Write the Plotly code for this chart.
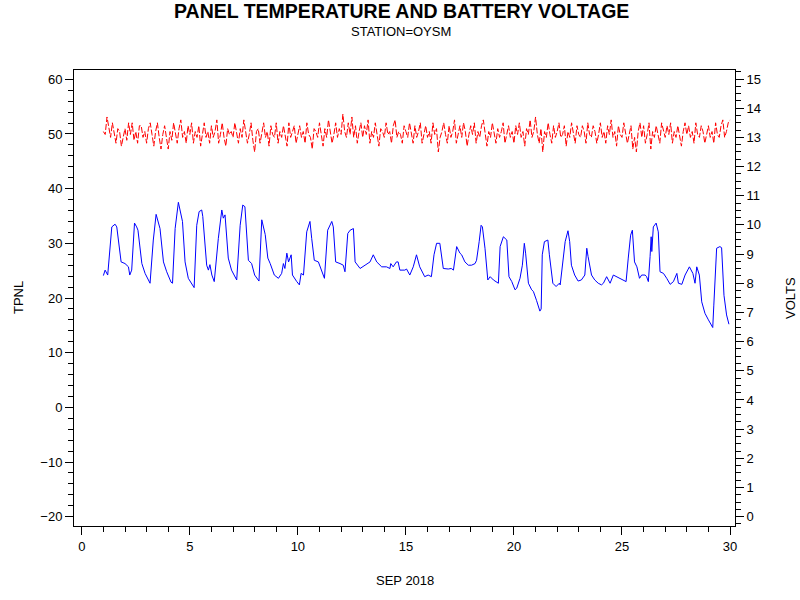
import numpy as np
import plotly.graph_objects as go

# panel temperature (day of month, value)
tpnl_day = [1.0, 1.08, 1.2, 1.39, 1.54, 1.62, 1.82, 2.0, 2.16, 2.22, 2.31, 2.44, 2.54, 2.6, 2.78, 2.93,
            3.16, 3.31, 3.44, 3.52, 3.62, 3.78, 3.93, 4.13, 4.2, 4.32, 4.47, 4.66, 4.78, 4.93, 5.12, 5.2,
            5.32, 5.43, 5.55, 5.6, 5.78, 5.86, 5.93, 6.02, 6.13, 6.32, 6.48, 6.55, 6.63, 6.78, 6.93, 7.09,
            7.17, 7.33, 7.45, 7.55, 7.71, 7.86, 8.0, 8.2, 8.33, 8.49, 8.61, 8.72, 8.78, 8.91, 9.1, 9.25,
            9.33, 9.4, 9.49, 9.57, 9.69, 9.75, 9.95, 10.07, 10.15, 10.26, 10.41, 10.56, 10.64, 10.76, 10.95, 11.1,
            11.23, 11.38, 11.57, 11.64, 11.75, 11.95, 12.1, 12.18, 12.31, 12.42, 12.57, 12.65, 12.88, 13.11, 13.34, 13.49,
            13.65, 13.88, 14.1, 14.26, 14.3, 14.41, 14.56, 14.64, 14.72, 14.95, 15.03, 15.18, 15.34, 15.49, 15.64, 15.87,
            16.03, 16.18, 16.3, 16.42, 16.57, 16.73, 16.96, 17.1, 17.2, 17.35, 17.5, 17.58, 17.73, 17.89, 18.04, 18.2,
            18.27, 18.39, 18.48, 18.54, 18.66, 18.79, 18.9, 19.05, 19.2, 19.28, 19.36, 19.51, 19.67, 19.77, 19.9, 20.05,
            20.13, 20.28, 20.39, 20.48, 20.54, 20.67, 20.82, 20.9, 21.05, 21.2, 21.26, 21.31, 21.41, 21.57, 21.64, 21.8,
            21.95, 22.1, 22.14, 22.25, 22.37, 22.5, 22.58, 22.66, 22.81, 22.97, 23.12, 23.28, 23.37, 23.43, 23.59, 23.74,
            23.9, 24.05, 24.14, 24.29, 24.45, 24.6, 24.76, 24.91, 25.07, 25.19, 25.29, 25.4, 25.48, 25.58, 25.69, 25.81,
            25.91, 26.07, 26.14, 26.22, 26.3, 26.35, 26.38, 26.45, 26.58, 26.68, 26.76, 26.92, 27.07, 27.23, 27.38, 27.54,
            27.61, 27.77, 27.92, 28.12, 28.28, 28.38, 28.46, 28.58, 28.69, 28.84, 29.0, 29.07, 29.2, 29.25, 29.38, 29.53,
            29.61, 29.72, 29.84, 29.95]
tpnl = [24.1, 25.1, 24.2, 33.0, 33.5, 33.0, 26.6, 26.3, 25.7, 24.2, 25.1, 33.7, 33.0, 32.4, 26.3, 24.5,
        22.7, 30.6, 35.3, 34.3, 32.7, 26.6, 24.8, 22.9, 22.7, 32.7, 37.5, 34.0, 26.6, 23.6, 22.4, 21.9,
        33.3, 35.8, 36.1, 34.9, 26.0, 25.1, 26.1, 24.2, 23.0, 30.9, 36.1, 34.6, 35.2, 27.3, 25.1, 23.9,
        23.3, 33.3, 37.0, 36.7, 26.9, 26.3, 24.2, 23.1, 34.3, 31.6, 27.3, 26.3, 25.7, 24.2, 23.6, 24.5,
        26.3, 25.4, 28.2, 26.6, 27.9, 24.2, 23.0, 22.4, 24.5, 24.2, 32.1, 34.0, 30.9, 26.9, 26.6, 24.8,
        23.6, 32.4, 34.0, 33.0, 26.6, 26.3, 26.0, 24.8, 31.8, 32.4, 32.7, 26.6, 25.4, 26.0, 26.6, 27.9,
        26.6, 25.7, 25.7, 25.4, 26.3, 25.7, 26.6, 26.6, 25.1, 25.1, 25.3, 24.2, 25.7, 27.9, 25.7, 23.9,
        24.2, 23.9, 27.9, 30.0, 30.0, 25.4, 25.3, 25.4, 25.1, 29.4, 28.2, 27.9, 26.6, 26.0, 26.0, 26.3,
        26.9, 30.3, 33.3, 33.0, 29.1, 23.3, 23.9, 23.3, 23.0, 22.7, 29.4, 31.2, 30.6, 23.9, 23.0, 21.5,
        21.8, 23.6, 26.0, 30.0, 28.2, 22.7, 21.5, 21.2, 19.5, 17.6, 18.0, 27.9, 30.3, 30.6, 27.9, 22.7,
        22.1, 22.7, 22.4, 26.6, 30.3, 32.3, 30.3, 26.0, 24.2, 23.1, 23.3, 24.2, 29.1, 27.6, 24.2, 23.3,
        22.7, 22.4, 22.7, 23.9, 22.7, 24.2, 23.9, 23.6, 23.3, 23.0, 27.3, 31.5, 32.4, 26.6, 25.7, 23.6,
        24.2, 24.2, 23.9, 23.0, 27.6, 31.2, 28.5, 33.0, 33.7, 32.1, 24.8, 24.5, 23.6, 22.5, 23.0, 24.5,
        22.7, 22.5, 24.2, 25.7, 24.5, 22.7, 25.7, 24.2, 19.3, 17.2, 16.0, 15.4, 14.6, 18.7, 29.1, 29.4,
        29.2, 20.5, 16.9, 15.2]

# battery voltage, every two hours from day 1.0
volt_start = 1.0
volts = [
    13.2, 13.1, 13.7, 13.3, 13.0, 13.5, 13.1, 12.8, 13.3, 13.2, 12.7, 13.0,
    13.3, 12.9, 13.5, 13.1, 13.5, 12.9, 13.2, 12.8, 13.4, 13.4, 13.0, 13.2,
    12.8, 13.3, 13.5, 13.1, 12.7, 13.2, 13.5, 13.0, 12.6, 13.1, 13.4, 13.0,
    12.6, 13.2, 12.9, 13.5, 13.1, 12.8, 13.3, 13.6, 13.0, 13.2, 12.8, 13.4,
    13.1, 13.5, 12.8, 13.2, 13.0, 13.4, 12.7, 13.1, 13.5, 13.0, 13.2, 12.8,
    13.4, 13.0, 13.2, 13.6, 12.8, 13.1, 13.5, 13.0, 12.7, 13.3, 13.1, 13.2,
    13.0, 13.5, 13.1, 12.8, 13.3, 13.0, 13.6, 13.2, 12.8, 13.1, 13.5, 12.9,
    12.5, 13.2, 13.3, 12.8, 13.1, 13.5, 13.0, 13.2, 12.7, 13.4, 13.1, 13.0,
    13.5, 12.8, 13.2, 13.0, 13.4, 13.1, 12.7, 13.5, 13.0, 13.2, 13.4, 12.8,
    13.1, 13.4, 13.0, 13.2, 12.8, 13.5, 13.1, 13.0, 12.6, 13.3, 13.2, 13.0,
    13.5, 13.1, 12.7, 13.3, 13.0, 13.6, 13.2, 12.8, 13.1, 13.5, 13.0, 13.3,
    13.1, 13.8, 13.2, 13.0, 13.5, 13.1, 13.7, 13.0, 13.4, 12.8, 13.2, 13.5,
    13.0, 13.4, 13.1, 13.6, 12.8, 13.2, 13.0, 13.5, 13.1, 12.7, 13.3, 13.2,
    13.0, 13.5, 13.1, 13.2, 12.8, 13.4, 13.6, 13.0, 13.2, 13.1, 12.8, 13.4,
    13.2, 13.0, 13.5, 13.1, 12.8, 13.4, 13.0, 13.2, 13.5, 12.8, 13.1, 13.4,
    13.0, 13.2, 12.8, 13.5, 13.1, 13.3, 12.5, 13.0, 13.2, 13.5, 13.1, 12.8,
    13.4, 13.0, 13.2, 13.6, 12.8, 13.1, 13.4, 13.0, 13.5, 13.2, 12.7, 13.1,
    13.4, 13.1, 13.5, 12.8, 13.2, 13.0, 13.4, 13.6, 13.1, 12.7, 13.2, 13.0,
    13.5, 13.1, 12.8, 13.3, 13.0, 13.2, 13.5, 12.8, 13.1, 13.4, 13.0, 13.2,
    12.8, 13.4, 13.1, 13.5, 13.0, 13.2, 12.7, 13.3, 13.1, 13.6, 13.0, 13.2,
    13.7, 13.1, 12.8, 13.3, 12.5, 13.2, 13.0, 13.5, 13.1, 12.8, 13.4, 13.0,
    13.2, 13.5, 13.0, 13.1, 13.4, 12.7, 13.2, 13.0, 13.5, 13.1, 12.8, 13.4,
    13.1, 13.0, 13.4, 13.2, 12.8, 13.5, 13.1, 13.0, 13.4, 13.2, 12.8, 13.1,
    13.5, 13.0, 13.2, 12.8, 13.4, 13.1, 13.6, 13.0, 13.2, 12.7, 13.4, 13.1,
    13.0, 13.5, 13.2, 12.8, 13.1, 13.4, 12.6, 13.0, 12.5, 13.2, 13.5, 13.0,
    13.4, 12.8, 13.1, 13.5, 12.6, 13.2, 13.0, 13.4, 13.1, 12.8, 13.5, 13.2,
    13.0, 13.4, 13.1, 13.5, 12.8, 13.2, 13.0, 13.4, 13.1, 12.7, 13.2, 13.5,
    13.1, 13.4, 13.0, 13.2, 12.8, 13.5, 13.1, 13.0, 13.4, 13.2, 12.8, 13.1,
    13.4, 13.0, 13.2, 12.8, 13.5, 13.1, 13.0, 13.4, 13.6, 13.0, 13.2, 13.5,
    13.6]
volt_day = volt_start + np.arange(len(volts)) / 12

font = 'Liberation Sans, Arial, sans-serif'

fig = go.Figure()
fig.add_trace(go.Scatter(x=tpnl_day, y=tpnl, mode='lines', line=dict(color='#0000ff', width=1),
                         showlegend=False))
fig.add_trace(go.Scatter(x=volt_day, y=volts, mode='lines', yaxis='y2',
                         line=dict(color='#ff0000', width=1, dash='6px,2px'), showlegend=False))

axis_common = dict(showgrid=False, zeroline=False, showline=True, linecolor='black', linewidth=1,
                   ticks='outside', tickcolor='black', ticklen=8, tickfont=dict(size=13, color='black'))

fig.update_layout(
    width=800, height=600,
    margin=dict(l=74, r=65, t=70, b=74),
    paper_bgcolor='white', plot_bgcolor='white',
    font=dict(family=font, color='black'),
    xaxis=dict(range=[-0.36, 30.23], tickvals=[0, 5, 10, 15, 20, 25, 30], mirror=True,
               minor=dict(dtick=1, tick0=0, ticks='outside', ticklen=5, tickcolor='black'),
               **axis_common),
    yaxis=dict(range=[-21.7, 61.7], dtick=10, tick0=0,
               minor=dict(dtick=2, ticks='outside', ticklen=5, tickcolor='black'),
               **axis_common),
    yaxis2=dict(range=[-0.32, 15.31], dtick=1, tick0=0, overlaying='y', side='right',
                minor=dict(dtick=0.25, ticks='outside', ticklen=5, tickcolor='black'),
                **axis_common),
    annotations=[
        dict(text='<b>PANEL TEMPERATURE AND BATTERY VOLTAGE</b>', xref='paper', yref='paper',
             x=(401 - 74) / 661, y=(526 - 11) / 456, showarrow=False, font=dict(size=19.5),
             xanchor='center', yanchor='middle'),
        dict(text='STATION=OYSM', xref='paper', yref='paper', x=(401 - 74) / 661, y=(526 - 31) / 456,
             showarrow=False, font=dict(size=13), xanchor='center', yanchor='middle'),
        dict(text='SEP 2018', xref='paper', yref='paper', x=(405 - 74) / 661, y=(526 - 580) / 456,
             showarrow=False, font=dict(size=13), xanchor='center', yanchor='middle'),
        dict(text='TPNL', xref='paper', yref='paper', x=(18 - 74) / 661, y=(526 - 298) / 456,
             showarrow=False, font=dict(size=13), textangle=-90, xanchor='center', yanchor='middle'),
        dict(text='VOLTS', xref='paper', yref='paper', x=(790 - 74) / 661, y=(526 - 298) / 456,
             showarrow=False, font=dict(size=13), textangle=-90, xanchor='center', yanchor='middle'),
    ],
)

# drop the browser's default 8px body margin so the figure sits at the window corner
fig.write_html("out.html", config={'displayModeBar': False},
               post_script="document.body.style.margin = '0';")
